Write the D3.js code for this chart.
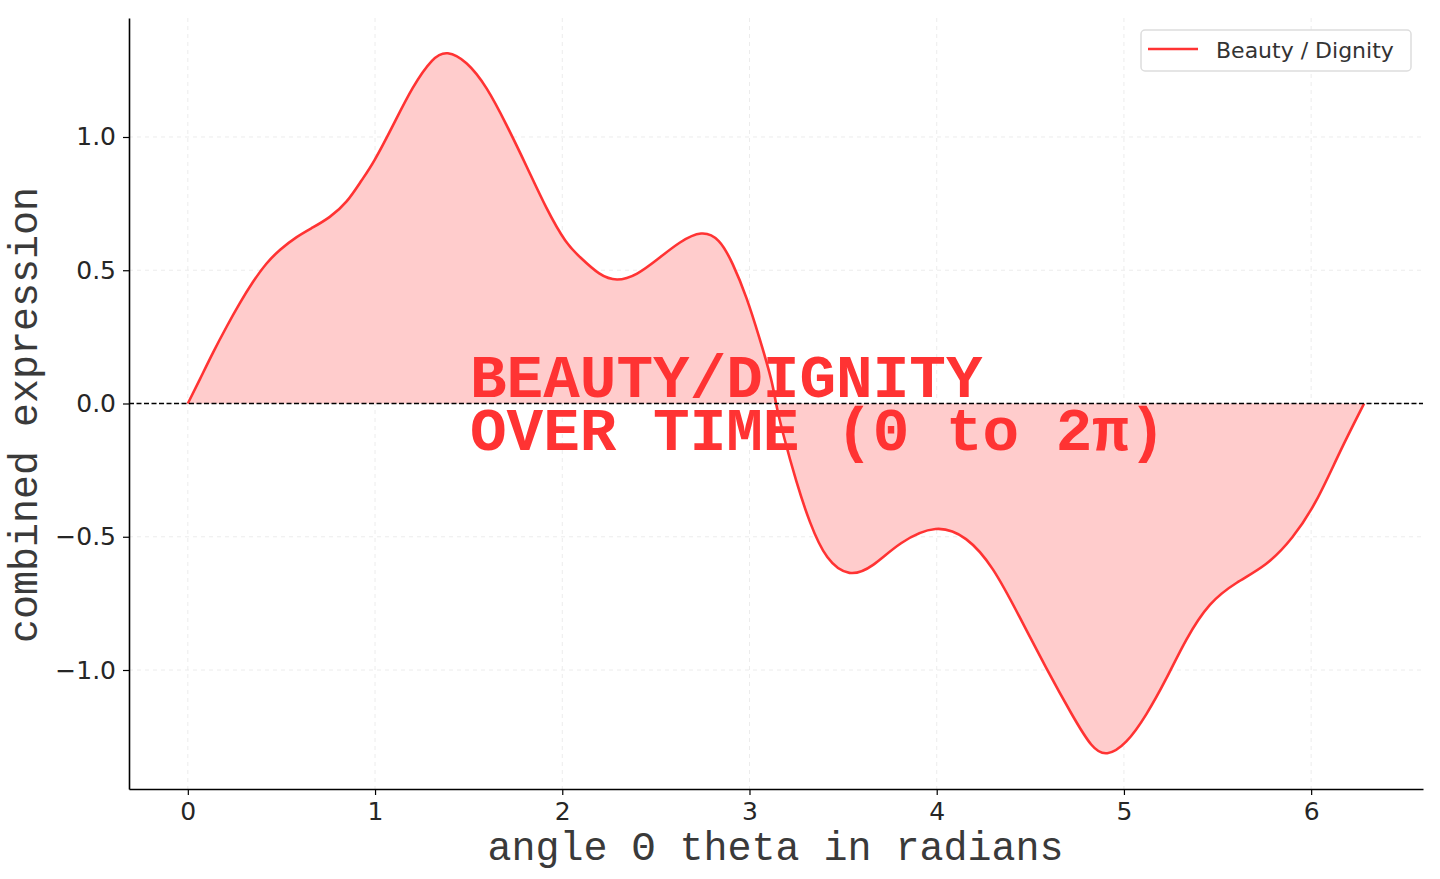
<!DOCTYPE html>
<html>
<head>
<meta charset="utf-8">
<script src="https://cdn.jsdelivr.net/npm/d3@7"></script>
<style>
  body { margin: 0; background: #fff; }
  svg { display: block; }
</style>
</head>
<body>
<div id="chart"></div>
<script>
// values (theta in radians, combined expression)
var thetaVals = [0, 0.064, 0.133, 0.208, 0.278, 0.347, 0.42, 0.49, 0.58, 0.667,
  0.758, 0.85, 0.93, 0.99, 1.094, 1.20, 1.31, 1.383, 1.49, 1.596,
  1.70, 1.81, 1.917, 2.02, 2.093, 2.2, 2.29, 2.397, 2.52, 2.627,
  2.745, 2.84, 2.91, 2.985, 3.054, 3.123, 3.14, 3.177, 3.25, 3.32,
  3.41, 3.534, 3.657, 3.80, 4.0, 4.16, 4.30, 4.44, 4.586, 4.725,
  4.83, 4.906, 5.013, 5.12, 5.227, 5.33, 5.456, 5.60, 5.76, 5.90,
  6.03, 6.15, 6.283];
var exprVals = [0, 0.09, 0.19, 0.29, 0.378, 0.457, 0.528, 0.577, 0.626, 0.66,
  0.697, 0.753, 0.84, 0.90, 1.04, 1.19, 1.30, 1.325, 1.285, 1.19,
  1.05, 0.89, 0.727, 0.60, 0.55, 0.48, 0.458, 0.48, 0.547, 0.607,
  0.65, 0.62, 0.528, 0.40, 0.245, 0.08, 0.0, -0.109, -0.296, -0.446,
  -0.59, -0.652, -0.615, -0.52, -0.452, -0.498, -0.61, -0.797, -0.996, -1.172,
  -1.295, -1.325, -1.278, -1.17, -1.034, -0.884, -0.745, -0.67, -0.61, -0.509,
  -0.371, -0.184, 0];

var xTicks = [0, 1, 2, 3, 4, 5, 6];
var yTicks = [-1.0, -0.5, 0.0, 0.5, 1.0];
var seriesName = "Beauty / Dignity";
var titleLines = ["BEAUTY/DIGNITY", "OVER TIME (0 to 2\u03c0)"];

var red = "#ff3333";
var monoFont = "'Courier New', 'Liberation Mono', monospace";

// set the dimensions and margins of the graph
var margin = {top: 18, right: 17, bottom: 90, left: 129},
  width = 1440 - margin.left - margin.right,
  height = 879 - margin.top - margin.bottom;

var svg = d3.select("#chart")
  .append("svg")
  .attr("width", 1440)
  .attr("height", 879)
  .append("g")
  .attr("transform", "translate(" + margin.left + "," + margin.top + ")");

var data = thetaVals.map(function(t, i) { return {t: t, v: exprVals[i]}; });

var x = d3.scaleLinear()
  .domain([-0.3142, 6.5974])
  .range([0, width]);
var y = d3.scaleLinear()
  .domain([-1.4465, 1.4465])
  .range([height, 0]);

// faint dashed grid
svg.append("g").selectAll("line.gx")
  .data(xTicks).enter().append("line")
  .attr("x1", function(d) { return x(d); })
  .attr("x2", function(d) { return x(d); })
  .attr("y1", 0).attr("y2", height)
  .attr("stroke", "#ececec").attr("stroke-width", 1)
  .attr("stroke-dasharray", "4,4");
svg.append("g").selectAll("line.gy")
  .data(yTicks).enter().append("line")
  .attr("y1", function(d) { return y(d); })
  .attr("y2", function(d) { return y(d); })
  .attr("x1", 0).attr("x2", width)
  .attr("stroke", "#ececec").attr("stroke-width", 1)
  .attr("stroke-dasharray", "4,4");

// filled area to zero
var area = d3.area()
  .x(function(d) { return x(d.t); })
  .y0(y(0))
  .y1(function(d) { return y(d.v); })
  .curve(d3.curveBasis);
svg.append("path")
  .datum(data)
  .attr("d", area)
  .attr("fill", "#ffcccc");

var line = d3.line()
  .x(function(d) { return x(d.t); })
  .y(function(d) { return y(d.v); })
  .curve(d3.curveBasis);
svg.append("path")
  .datum(data)
  .attr("d", line)
  .attr("fill", "none")
  .attr("stroke", red)
  .attr("stroke-width", 2.6)
  .attr("stroke-linejoin", "round");

// zero line
svg.append("line")
  .attr("x1", 0).attr("x2", width)
  .attr("y1", y(0)).attr("y2", y(0))
  .attr("stroke", "#000")
  .attr("stroke-width", 1.4)
  .attr("stroke-dasharray", "5,2.5");

// axes
var xAxis = svg.append("g")
  .attr("transform", "translate(0," + height + ")")
  .call(d3.axisBottom(x).tickValues(xTicks).tickFormat(d3.format("d"))
    .tickSize(6).tickSizeOuter(0).tickPadding(7));
var yAxis = svg.append("g")
  .call(d3.axisLeft(y).tickValues(yTicks).tickFormat(d3.format(".1f"))
    .tickSize(6).tickSizeOuter(0).tickPadding(7));

[xAxis, yAxis].forEach(function(ax) {
  ax.select(".domain").attr("stroke", "#000").attr("stroke-width", 1.6);
  ax.selectAll(".tick line").attr("stroke", "#000").attr("stroke-width", 1.2);
  ax.selectAll(".tick text")
    .attr("fill", "#262626")
    .style("font-family", "DejaVu Sans")
    .style("font-size", "25px");
});

// axis labels
svg.append("text")
  .attr("text-anchor", "middle")
  .attr("x", (486 + 1065) / 2 - margin.left)
  .attr("y", 860 - margin.top)
  .style("font-family", monoFont)
  .style("font-size", "40px")
  .attr("fill", "#3a3a3a")
  .text("angle \u0398 theta in radians");

svg.append("text")
  .attr("text-anchor", "middle")
  .attr("transform", "rotate(-90)")
  .attr("x", -(415 - margin.top))
  .attr("y", 37 - margin.left)
  .style("font-family", monoFont)
  .style("font-size", "40px")
  .attr("fill", "#3a3a3a")
  .text("combined expression");

// big title inside the plot
svg.append("text")
  .attr("x", 470 - margin.left)
  .attr("y", 397 - margin.top)
  .style("font-family", monoFont)
  .style("font-weight", "bold")
  .style("font-size", "61px")
  .attr("fill", red)
  .selectAll("tspan")
  .data(titleLines).enter().append("tspan")
  .attr("x", 470 - margin.left)
  .attr("dy", function(d, i) { return i === 0 ? 0 : 53; })
  .text(function(d) { return d; });

// legend
var lg = svg.append("g")
  .attr("transform", "translate(" + (1141 - margin.left) + "," + (30 - margin.top) + ")");
lg.append("rect")
  .attr("width", 270).attr("height", 41)
  .attr("rx", 4)
  .attr("fill", "#fff")
  .attr("stroke", "#dddddd")
  .attr("stroke-width", 1.5);
lg.append("line")
  .attr("x1", 7).attr("x2", 57)
  .attr("y1", 19).attr("y2", 19)
  .attr("stroke", red).attr("stroke-width", 2.6);
lg.append("text")
  .attr("x", 75).attr("y", 28)
  .style("font-family", "DejaVu Sans")
  .style("font-size", "22px")
  .attr("fill", "#333")
  .text(seriesName);
</script>
</body>
</html>
